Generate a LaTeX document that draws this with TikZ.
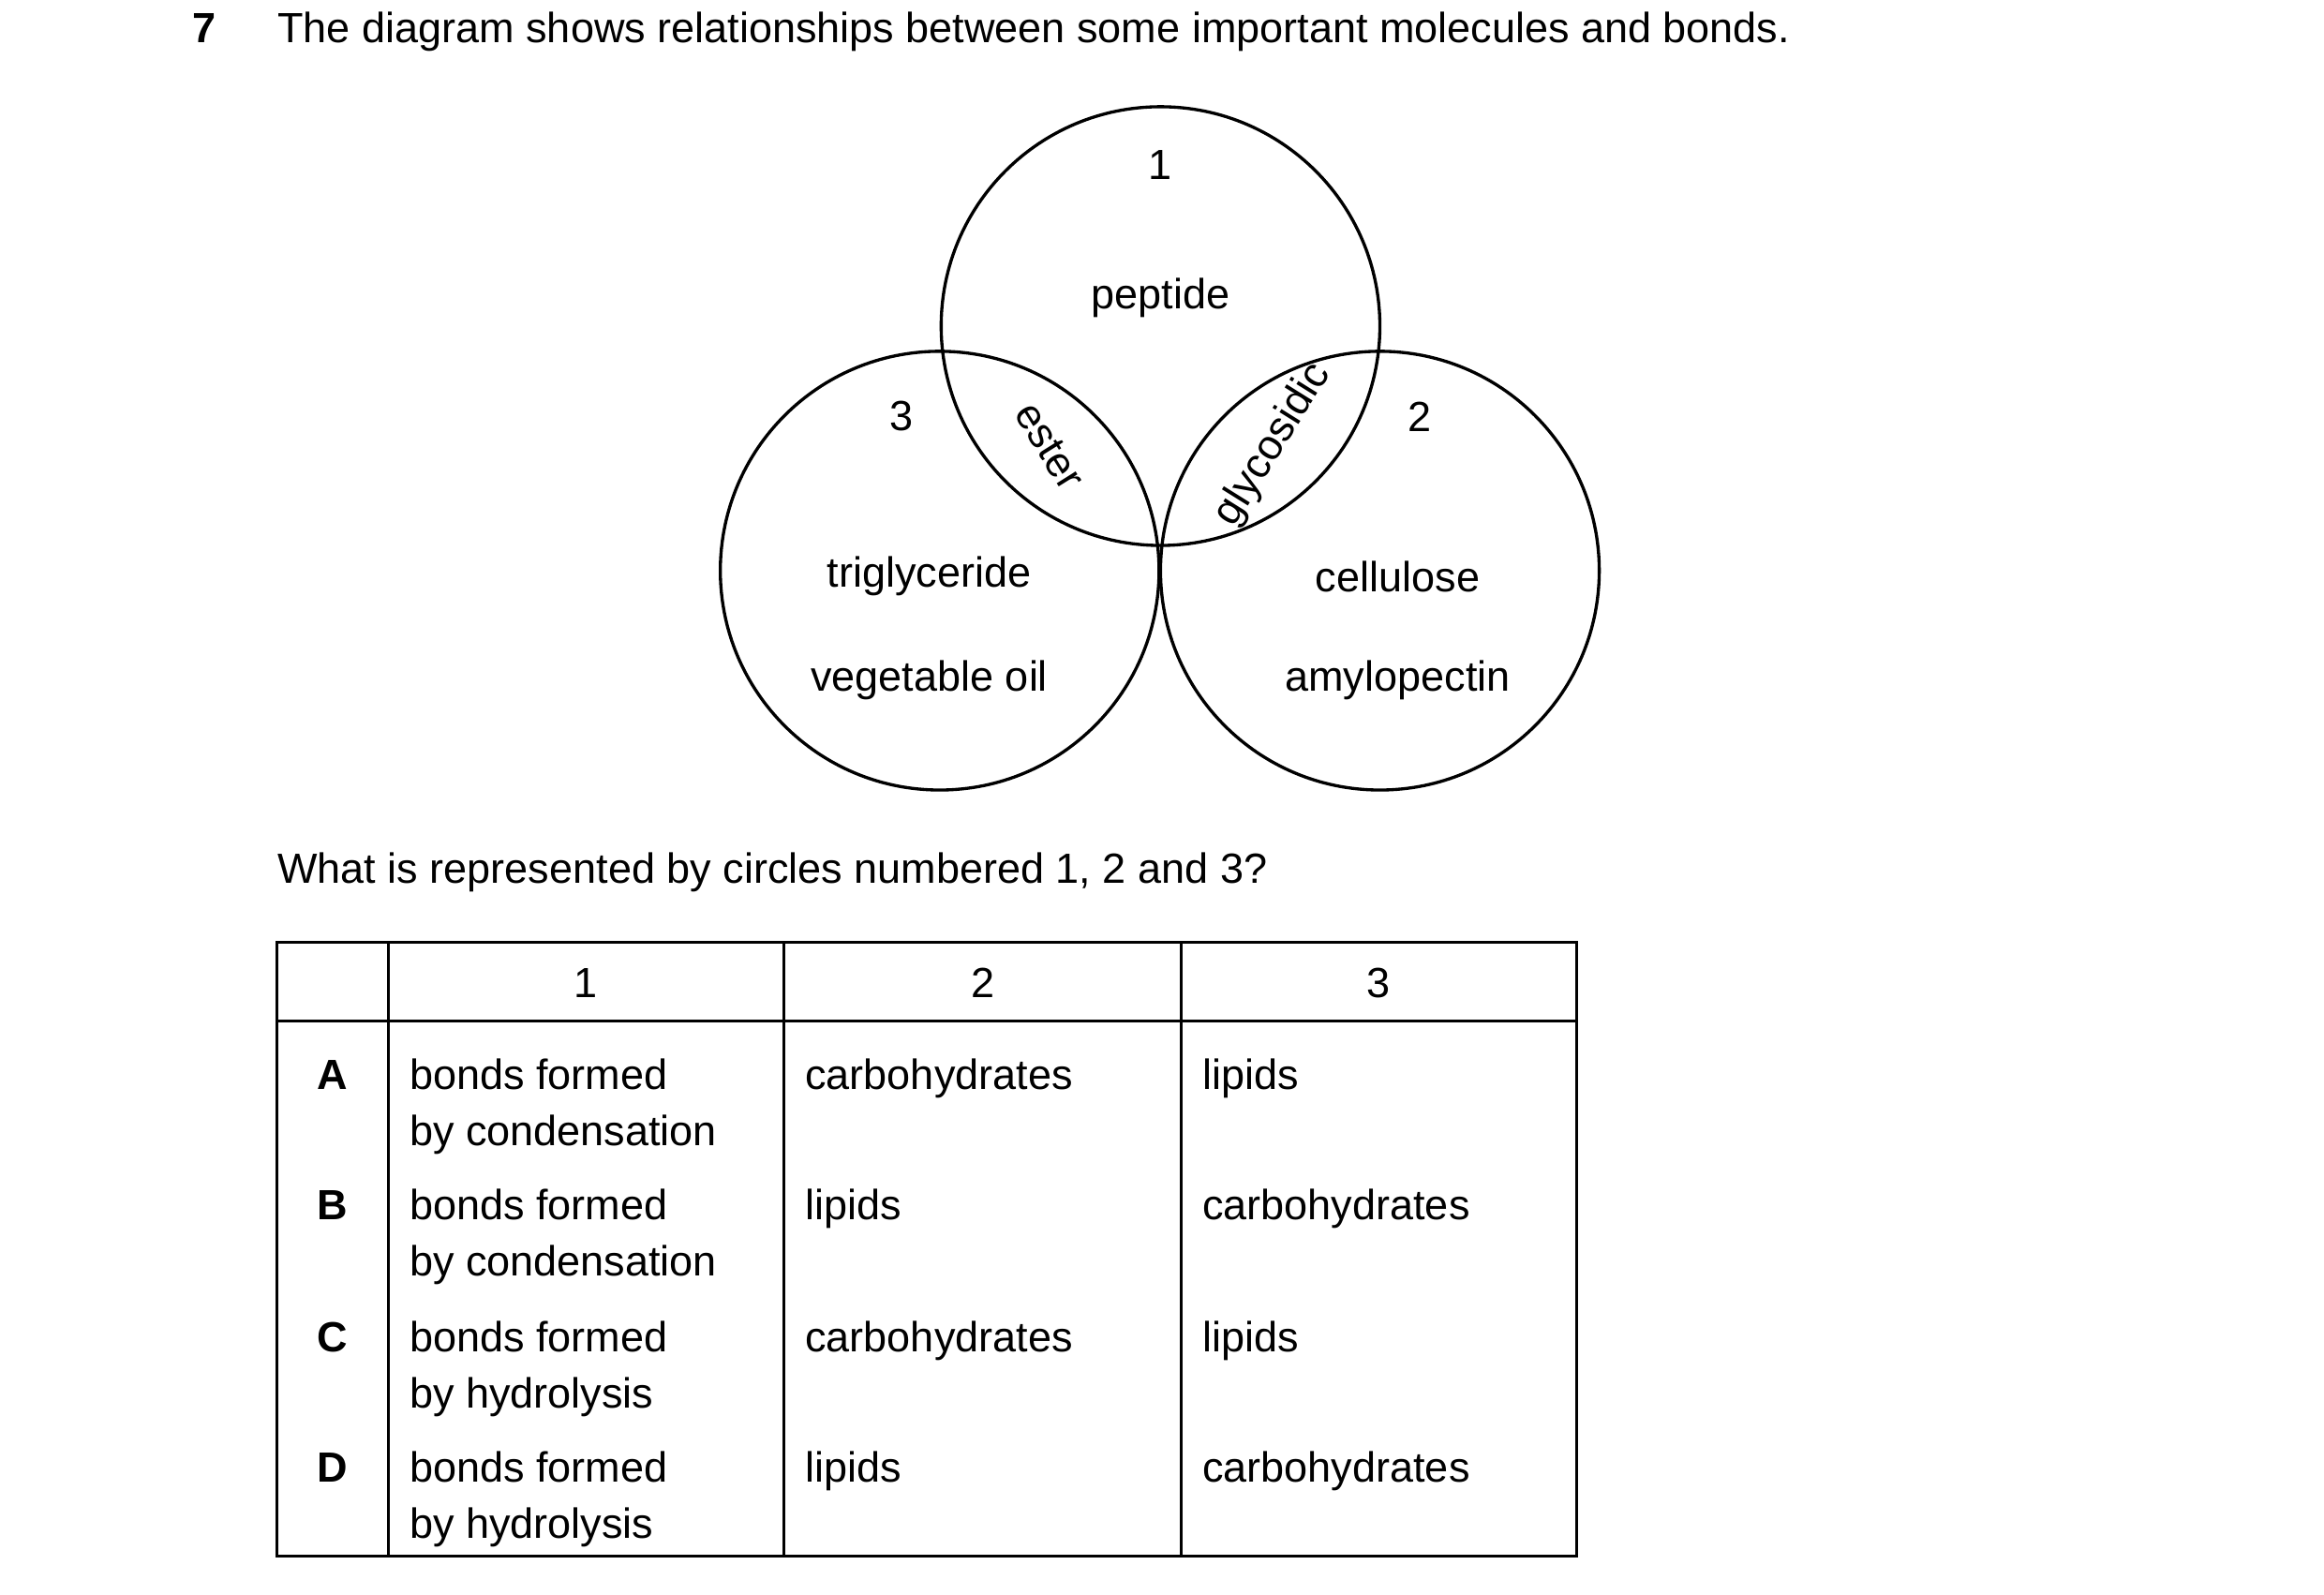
\documentclass[tikz,border=0pt]{standalone}
\usepackage{fontspec}
\setmainfont{Liberation Sans}
\usetikzlibrary{positioning}
\tikzset{
  txt/.style={inner sep=0pt,font=\fontsize{16.2}{19}\selectfont},
  cell/.style={txt,anchor=base west,align=left},
  let/.style={txt,anchor=base,font=\fontsize{16.2}{19}\selectfont\bfseries},
  venn/.style={line width=1.2pt},
  grid/.style={line width=1.1pt},
}
\begin{document}
\begin{tikzpicture}[x=0.02cm,y=-0.02cm]
  \useasboundingbox (0,0) rectangle (1568,1076);

  % question
  \node[txt,anchor=base,font=\fontsize{16.2}{19}\selectfont\bfseries] (qnum) at (138,29) {7};
  \node[txt,anchor=base west] (qtext) at (187,29) {The diagram shows relationships between some important molecules and bonds.};

  % circles
  \draw[venn] (783,220) circle (148);
  \draw[venn] (634,385) circle (148);
  \draw[venn] (931,385) circle (148);

  \node[txt] (n1) at (783,111) {1};
  \node[txt] (pep) at (783,201) {peptide};
  \node[txt] (n3) at (608,281) {3};
  \node[txt] (n2) at (958,281) {2};
  \node[txt,rotate=-58] (est) at (708,301) {ester};
  \node[txt,rotate=58] (gly) at (859,300) {glycosidic};
  \node[txt] (tri) at (627,389) {triglyceride};
  \node[txt] (veg) at (627,459) {vegetable oil};
  \node[txt] (cel) at (943,389) {cellulose};
  \node[txt] (amy) at (943,459) {amylopectin};

  \node[txt,anchor=base west] (ask) at (187,596) {What is represented by circles numbered 1, 2 and 3?};

  % table
  \draw[grid] (187,636) rectangle (1064,1050);
  \draw[grid] (187,689) -- (1064,689);
  \foreach \x in {262,529,797} \draw[grid] (\x,636) -- (\x,1050);

  \node[txt,anchor=base] (h1) at (395,673) {1};
  \node[txt,anchor=base] (h2) at (663,673) {2};
  \node[txt,anchor=base] (h3) at (930,673) {3};

  \foreach \l/\y/\b/\c/\d in {A/735/condensation/carbohydrates/lipids,
                              B/823/condensation/lipids/carbohydrates,
                              C/912/hydrolysis/carbohydrates/lipids,
                              D/1000/hydrolysis/lipids/carbohydrates}{
    \node[let] (row\l) at (224,\y) {\l};
    \node[cell] (one\l) at (276,\y) {bonds formed};
    \node[cell] (by\l) at (276,\y+38) {by \b};
    \node[cell] (two\l) at (543,\y) {\c};
    \node[cell] (thr\l) at (811,\y) {\d};
  }
\end{tikzpicture}
\end{document}
